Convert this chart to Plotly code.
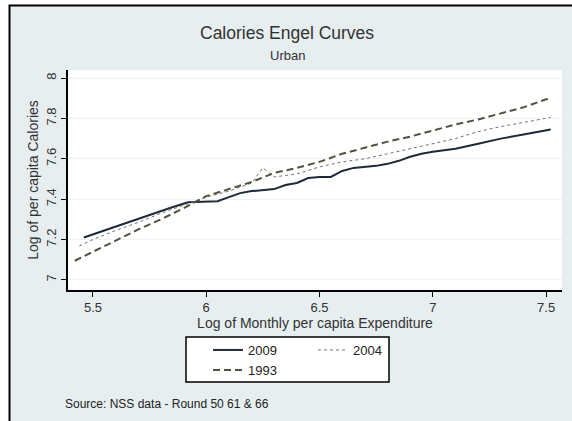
import plotly.graph_objects as go

# ---- data ----
x_2009 = [5.46, 5.55, 5.65, 5.75, 5.85, 5.92, 6.0, 6.05, 6.1, 6.15, 6.2, 6.25, 6.3, 6.35, 6.4,
          6.45, 6.5, 6.55, 6.6, 6.65, 6.7, 6.75, 6.8, 6.85, 6.9, 6.95, 7.0, 7.1, 7.2, 7.3, 7.4, 7.5, 7.52]
y_2009 = [7.21, 7.245, 7.285, 7.32, 7.36, 7.385, 7.39, 7.39, 7.41, 7.43, 7.44, 7.445, 7.45, 7.47, 7.48,
          7.505, 7.51, 7.51, 7.54, 7.555, 7.56, 7.565, 7.575, 7.59, 7.61, 7.625, 7.635, 7.65, 7.675, 7.70, 7.72, 7.74, 7.745]

x_2004 = [5.44, 5.5, 5.6, 5.7, 5.8, 5.9, 6.0, 6.1, 6.2, 6.25, 6.3, 6.4, 6.5, 6.6, 6.7, 6.8, 6.9,
          7.0, 7.1, 7.2, 7.3, 7.4, 7.5, 7.52]
y_2004 = [7.168, 7.20, 7.245, 7.285, 7.33, 7.37, 7.41, 7.44, 7.48, 7.555, 7.51, 7.525, 7.56, 7.585,
          7.60, 7.625, 7.65, 7.675, 7.70, 7.735, 7.76, 7.78, 7.80, 7.805]

x_1993 = [5.42, 5.5, 5.6, 5.7, 5.8, 5.9, 6.0, 6.1, 6.2, 6.3, 6.4, 6.5, 6.6, 6.7, 6.8, 6.9, 7.0,
          7.1, 7.2, 7.3, 7.4, 7.5, 7.52]
y_1993 = [7.095, 7.14, 7.195, 7.25, 7.30, 7.355, 7.415, 7.45, 7.485, 7.53, 7.555, 7.585, 7.625,
          7.655, 7.685, 7.71, 7.74, 7.77, 7.795, 7.825, 7.855, 7.895, 7.90]

x_ticks = [5.5, 6, 6.5, 7, 7.5]
y_ticks = [7, 7.2, 7.4, 7.6, 7.8, 8]

# ---- layout helpers (pixel -> paper) ----
W, H = 572, 421
ML, MR, MT, MB = 68, 10, 70, 131
PW, PH = W - ML - MR, H - MT - MB


def px(x):
    return (x - ML) / PW


def py(y):
    return (H - MB - y) / PH


FONT = "Liberation Sans, Arial, sans-serif"
BG = "#e6eef0"

fig = go.Figure()
fig.add_trace(go.Scatter(x=x_2009, y=y_2009, name="2009", mode="lines",
                         line=dict(color="#1c2a3c", width=2), legend="legend"))
fig.add_trace(go.Scatter(x=x_2004, y=y_2004, name="2004", mode="lines",
                         line=dict(color="#707070", width=1, dash="dot"), legend="legend"))
fig.add_trace(go.Scatter(x=x_1993, y=y_1993, name="1993", mode="lines",
                         line=dict(color="#50533f", width=2, dash="7px,4px"), legend="legend2"))

shapes = [
    # white strips outside the frame
    dict(type="rect", xref="paper", yref="paper", x0=px(-5), x1=px(9), y0=py(430), y1=py(-5),
         fillcolor="white", line=dict(width=0), layer="below"),
    dict(type="rect", xref="paper", yref="paper", x0=px(-5), x1=px(580), y0=py(5), y1=py(-5),
         fillcolor="white", line=dict(width=0), layer="below"),
    # plot area
    dict(type="rect", xref="paper", yref="paper", x0=0, x1=1, y0=0, y1=1,
         fillcolor="white", line=dict(width=0), layer="below"),
    # legend box
    dict(type="rect", xref="paper", yref="paper", x0=px(186), x1=px(389), y0=py(382), y1=py(337),
         fillcolor="white", line=dict(color="black", width=1.5), layer="below"),
    # outer frame border
    dict(type="rect", xref="paper", yref="paper", x0=px(9.5), x1=px(620), y0=py(470), y1=py(5.5),
         fillcolor="rgba(0,0,0,0)", line=dict(color="black", width=2), layer="above"),
]

annotations = [
    dict(text="Calories Engel Curves", x=px(287), y=py(33), xref="paper", yref="paper",
         showarrow=False, font=dict(size=17.5, color="#333333", family=FONT), xanchor="center", yanchor="middle"),
    dict(text="Urban", x=px(287), y=py(56), xref="paper", yref="paper",
         showarrow=False, font=dict(size=13, color="#333333", family=FONT), xanchor="center", yanchor="middle"),
    dict(text="Source: NSS data - Round 50 61 & 66", x=px(63), y=py(404), xref="paper", yref="paper",
         showarrow=False, font=dict(size=12, color="#222222", family=FONT), xanchor="left", yanchor="middle"),
]

fig.update_layout(
    width=W, height=H,
    margin=dict(l=ML, r=MR, t=MT, b=MB),
    paper_bgcolor=BG, plot_bgcolor="white",
    font=dict(family=FONT, color="#333333", size=13),
    shapes=shapes, annotations=annotations,
    legend=dict(orientation="h", x=px(208), y=py(335), xanchor="left", yanchor="top",
                bgcolor="rgba(0,0,0,0)", borderwidth=0, entrywidth=60,
                font=dict(size=13, color="#222222", family=FONT)),
    legend2=dict(orientation="h", x=px(208), y=py(355), xanchor="left", yanchor="top",
                 bgcolor="rgba(0,0,0,0)", borderwidth=0,
                 font=dict(size=13, color="#222222", family=FONT)),
    xaxis=dict(range=[5.39, 7.57], tickvals=x_ticks, ticktext=[str(v) for v in x_ticks],
               showline=True, linecolor="black", linewidth=1.5, ticks="outside", ticklen=5,
               tickcolor="black", showgrid=False, zeroline=False,
               tickfont=dict(size=13, color="#333333"),
               title=dict(text="Log of Monthly per capita Expenditure", standoff=0,
                          font=dict(size=14, color="#333333"))),
    yaxis=dict(range=[6.95, 8.04], tickvals=y_ticks, ticktext=[str(v) for v in y_ticks],
               showline=True, linecolor="black", linewidth=1.5, ticks="outside", ticklen=5,
               tickcolor="black", showgrid=True, gridcolor="#eef2f2", gridwidth=1, zeroline=False,
               tickangle=-90, tickfont=dict(size=13, color="#333333"),
               title=dict(text="Log of per capita Calories", standoff=2,
                          font=dict(size=14, color="#333333"))),
)

fig.write_html("out.html", config={"displayModeBar": False},
               post_script="document.body.style.margin='0';")
